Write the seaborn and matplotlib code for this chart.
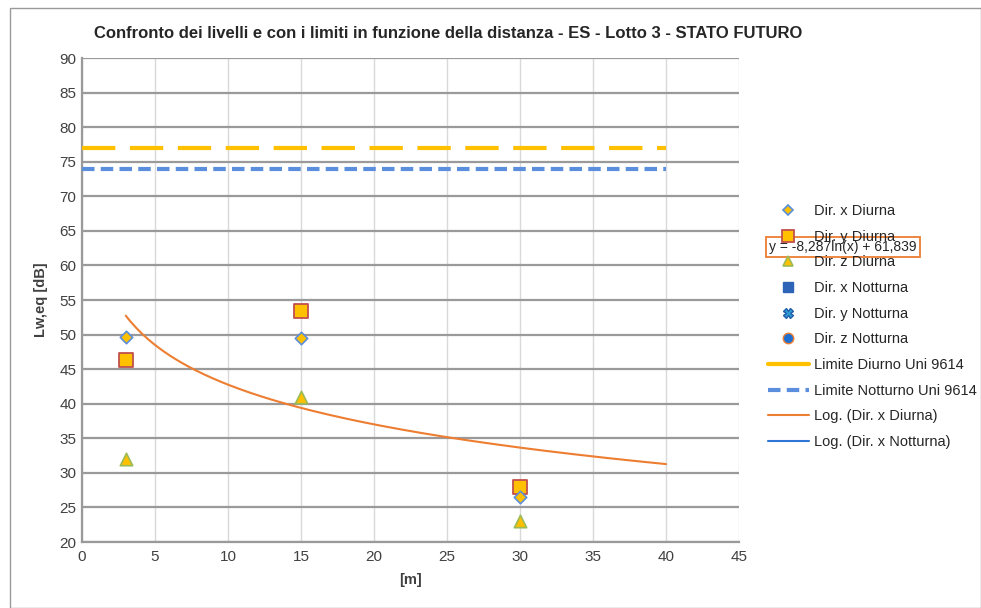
import numpy as np
import pandas as pd
import matplotlib
matplotlib.use("Agg")
import matplotlib.pyplot as plt
import seaborn as sns
from matplotlib.lines import Line2D
from matplotlib.patches import Rectangle

sns.set_theme(style="white")
plt.rcParams['font.family'] = ['Liberation Sans', 'DejaVu Sans']

# Data
distances = [3, 15, 30]
dir_x_diurna = [49.7, 49.5, 26.5]
dir_y_diurna = [46.3, 53.4, 28.0]
dir_z_diurna = [32.0, 41.0, 23.0]
limite_x = [0, 40]
limite_diurno = [77, 77]
limite_notturno = [74, 74]
log_a, log_b = -8.287, 61.839
trend_range = [3, 40]

fig = plt.figure(figsize=(9.81, 6.08), dpi=100)
W, H = 981, 608
ax = fig.add_axes([82 / W, 1 - 542 / H, (739 - 82) / W, (542 - 58) / H])

# border around chart
fig.patches.append(Rectangle((10 / W, 0), 1 - 10 / W, 1 - 8 / H, transform=fig.transFigure,
                             fill=False, edgecolor='#9a9a9a', linewidth=1.0))

# limits
ax.plot(limite_x, limite_diurno, color='#FFC000', lw=3, dashes=(8, 3.5), zorder=3)
ax.plot(limite_x, limite_notturno, color='#5B8EDC', lw=3, dashes=(3, 1.5), zorder=3)

# trendline
xt = np.linspace(trend_range[0], trend_range[1], 200)
ax.plot(xt, log_a * np.log(xt) + log_b, color='#ED7D31', lw=1.5, zorder=3)

df = pd.DataFrame({'x': distances, 'dx': dir_x_diurna, 'dy': dir_y_diurna, 'dz': dir_z_diurna})
sns.scatterplot(data=df, x='x', y='dx', marker='D', s=40, color='#FFC000',
                edgecolor='#5B8EDC', linewidth=1.2, ax=ax, zorder=5)
sns.scatterplot(data=df, x='x', y='dy', marker='s', s=110, color='#FFC000',
                edgecolor='#C0504D', linewidth=1.3, ax=ax, zorder=4)
sns.scatterplot(data=df, x='x', y='dz', marker='^', s=80, color='#FFC000',
                edgecolor='#9BBB59', linewidth=1.2, ax=ax, zorder=4)

ax.set_xlim(0, 45)
ax.set_ylim(20, 90)
ax.set_xticks(range(0, 46, 5))
ax.set_yticks(range(20, 91, 5))
ax.tick_params(axis='both', labelsize=11, colors='#404040', length=0, pad=4)
ax.tick_params(axis='x', pad=6)
ax.yaxis.grid(True, color='#9a9a9a', lw=1.6)
ax.xaxis.grid(True, color='#d9d9d9', lw=1.0)
ax.set_axisbelow(True)
for s in ['top', 'right']:
    ax.spines[s].set_visible(False)
for s in ['left', 'bottom']:
    ax.spines[s].set_color('#9a9a9a')
    ax.spines[s].set_linewidth(1.6)

ax.set_xlabel('[m]', fontsize=10.5, fontweight='bold', color='#404040', labelpad=6)
ax.set_ylabel('Lw,eq [dB]', fontsize=10.5, fontweight='bold', color='#404040', labelpad=8)
fig.text(448 / W, 1 - 33 / H, 'Confronto dei livelli e con i limiti in funzione della distanza - ES - Lotto 3 - STATO FUTURO',
         ha='center', va='center', fontsize=12, fontweight='bold', color='#262626')

handles = [
    Line2D([], [], ls='none', marker='D', ms=5.5, mfc='#FFC000', mec='#5B8EDC', mew=1.2),
    Line2D([], [], ls='none', marker='s', ms=9, mfc='#FFC000', mec='#C0504D', mew=1.3),
    Line2D([], [], ls='none', marker='^', ms=7.5, mfc='#FFC000', mec='#9BBB59', mew=1.2),
    Line2D([], [], ls='none', marker='s', ms=7, mfc='#2E64B8', mec='#2E64B8'),
    Line2D([], [], ls='none', marker='X', ms=7, mfc='#2E9BD6', mec='#1F5FA8'),
    Line2D([], [], ls='none', marker='o', ms=7.5, mfc='#1F6FD0', mec='#ED7D31'),
    Line2D([], [], color='#FFC000', lw=3),
    Line2D([], [], color='#5B8EDC', lw=3, dashes=(3, 1.5)),
    Line2D([], [], color='#ED7D31', lw=1.5),
    Line2D([], [], color='#2E75D6', lw=1.5),
]
labels = ['Dir. x Diurna', 'Dir. y Diurna', 'Dir. z Diurna', 'Dir. x Notturna', 'Dir. y Notturna',
          'Dir. z Notturna', 'Limite Diurno Uni 9614', 'Limite Notturno Uni 9614',
          'Log. (Dir. x Diurna)', 'Log. (Dir. x Notturna)']
fig.legend(handles, labels, loc='upper left', bbox_to_anchor=(768 / W, 1 - 204 / H),
           frameon=False, fontsize=10.5, labelspacing=0.8, handlelength=2.8,
           handletextpad=0.35, borderpad=0, borderaxespad=0, labelcolor='#262626')

fig.text(843 / W, 1 - 247 / H, 'y = -8,287ln(x) + 61,839', ha='center', va='center', fontsize=10,
         color='#262626',
         bbox=dict(boxstyle='square,pad=0.25', fc='white', ec='#ED7D31', lw=1.3))

fig.savefig('out.png', dpi=100)
